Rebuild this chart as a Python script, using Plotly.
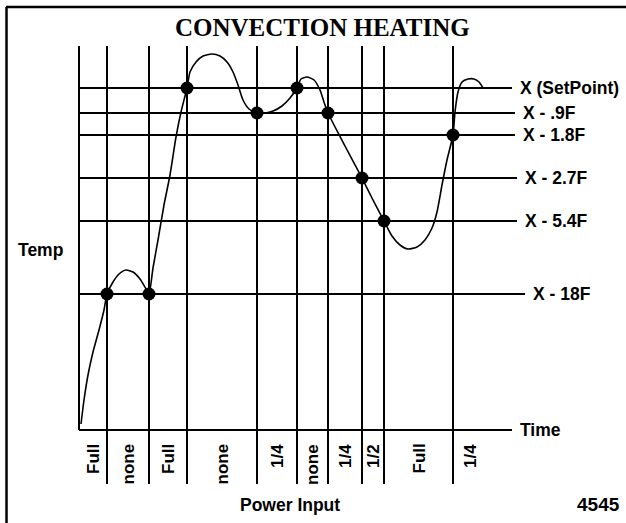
import plotly.graph_objects as go

# Temperature trace: time since start vs. height above the time axis (schematic units)
time = [2, 5, 9, 14, 20, 25, 28, 34, 40, 47, 54, 61, 67, 70, 74, 79, 85, 91, 97, 102,
        108, 111, 117, 124, 133, 141, 148, 154, 159, 164, 170, 178, 186, 194, 203, 211,
        218, 222, 228, 235, 241, 245, 249, 266, 283, 294, 305, 313, 321, 329, 338, 346,
        353, 358, 363, 368, 374, 376, 379, 383, 389, 395, 400, 404]
temp = [6, 30, 55, 78, 100, 120, 136, 148, 156, 160, 158, 151, 141, 136, 162, 190, 225, 255, 293, 318,
        342, 358, 368, 374, 376, 374, 368, 358, 345, 330, 321, 317, 317, 319, 324, 332,
        342, 351, 353, 350, 340, 328, 317, 284, 252, 230, 209, 194, 185, 181, 183, 190,
        202, 218, 245, 270, 295, 318, 338, 348, 351, 351, 348, 342]

# Threshold levels (schematic heights) and their labels
level_names = ["X (SetPoint)", "X - .9F", "X - 1.8F", "X - 2.7F", "X - 5.4F", "X - 18F"]
level_temp = [342, 317, 295, 252, 209, 136]

# Switching events: time of each crossing and the level it happens on
event_time = [28, 70, 108, 178, 218, 249, 283, 305, 374]
event_level = [5, 5, 0, 1, 0, 1, 3, 4, 2]

# Power setting applied in each interval between events
power = ["Full", "none", "Full", "none", "1/4", "none", "1/4", "1/2", "Full", "1/4"]

BLACK = "#000000"
FONT = "Liberation Sans"
W, H = 626, 523

fig = go.Figure()

# temperature curve
fig.add_trace(go.Scatter(
    x=time, y=temp, mode="lines",
    line=dict(color=BLACK, width=1.6, shape="spline", smoothing=0.6),
    hoverinfo="skip", showlegend=False,
))

# switching points
fig.add_trace(go.Scatter(
    x=event_time, y=[level_temp[i] for i in event_level], mode="markers",
    marker=dict(color=BLACK, size=13, line=dict(width=0)),
    hoverinfo="skip", showlegend=False,
))

shapes = []
line_style = dict(color=BLACK, width=2)

# axes
grid_top = 384
shapes.append(dict(type="line", xref="x", yref="y", x0=0, x1=0, y0=0, y1=grid_top, line=line_style))
time_axis_end = 433
shapes.append(dict(type="line", xref="x", yref="y", x0=0, x1=time_axis_end, y0=0, y1=0, line=line_style))

# event verticals, running down into the power-input label band
vert_bottom = -54
for t in event_time:
    shapes.append(dict(type="line", xref="x", yref="y", x0=t, x1=t, y0=vert_bottom, y1=grid_top,
                       line=line_style))

# threshold horizontals
level_end = [433, 436, 436, 438, 438, 446]
for lv, xe in zip(level_temp, level_end):
    shapes.append(dict(type="line", xref="x", yref="y", x0=0, x1=xe, y0=lv, y1=lv, line=line_style))

# frame (top and left edges)
shapes.append(dict(type="line", xref="paper", yref="paper", x0=6 / W, x1=1, y0=1 - 7 / H, y1=1 - 7 / H,
                   line=dict(color=BLACK, width=2.5)))
shapes.append(dict(type="line", xref="paper", yref="paper", x0=6.5 / W, x1=6.5 / W, y0=0, y1=1 - 7 / H,
                   line=dict(color=BLACK, width=2.5)))

annotations = []

def txt(text, x, y, size, xanchor="center", yanchor="middle", xref="x", yref="y",
        family=FONT, angle=0):
    annotations.append(dict(
        text=f"<b>{text}</b>", x=x, y=y, xref=xref, yref=yref, showarrow=False,
        xanchor=xanchor, yanchor=yanchor, textangle=angle,
        font=dict(family=family, size=size, color=BLACK),
    ))

# title
txt("CONVECTION HEATING", 322 / W, 1 - 28 / H, 25, xref="paper", yref="paper",
    family="Liberation Serif")

# level labels
for name, lv, xe in zip(level_names, level_temp, level_end):
    txt(name, xe + 6, lv, 17.5, xanchor="left")

# axis labels
txt("Time", time_axis_end + 6, 0, 17.5, xanchor="left")
txt("Temp", -39, 180, 17.5)
txt("Power Input", 211, -75, 17.5)
txt("4545", 519, -74, 19)

# power settings, one per interval
bounds = [0] + event_time
for i, p in enumerate(power):
    if i < len(event_time):
        xc = (bounds[i] + bounds[i + 1]) / 2
    else:
        xc = bounds[-1] + 17
    txt(p, xc, -12, 17, yanchor="top", angle=-90)

fig.update_layout(
    width=W, height=H, autosize=False,
    margin=dict(l=0, r=0, t=0, b=0),
    paper_bgcolor="white", plot_bgcolor="white",
    xaxis=dict(range=[-79, W - 79], visible=False, fixedrange=True),
    yaxis=dict(range=[430 - H, 430], visible=False, fixedrange=True),
    shapes=shapes, annotations=annotations,
    showlegend=False,
)

fig.write_html("out.html")
